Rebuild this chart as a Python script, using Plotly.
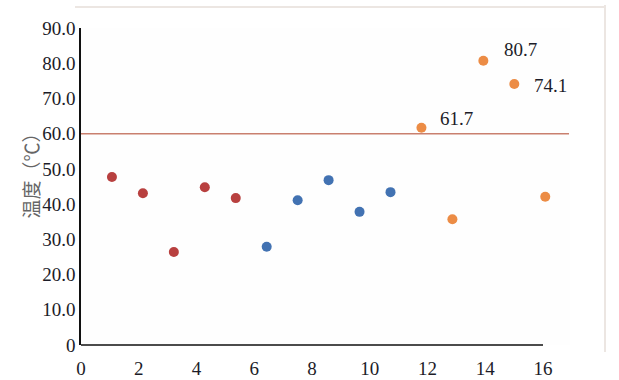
import plotly.graph_objects as go

# Data
sample_a = [1, 2, 3, 4, 5]
temp_a = [47.7, 43.1, 26.4, 44.8, 41.7]
sample_b = [6, 7, 8, 9, 10]
temp_b = [27.9, 41.1, 46.8, 37.8, 43.4]
sample_c = [11, 12, 13, 14, 15]
temp_c = [61.7, 35.7, 80.7, 74.1, 42.1]
threshold = 60
labeled = [11, 13, 14]
x_ticks = [0, 2, 4, 6, 8, 10, 12, 14, 16]
y_ticks = [0, 10, 20, 30, 40, 50, 60, 70, 80, 90]
y_ticktext = ["0", "10.0", "20.0", "30.0", "40.0", "50.0", "60.0", "70.0", "80.0", "90.0"]
y_title = "温度（℃）"

RED = "#b8403f"
BLUE = "#4272b2"
ORANGE = "#ec8c45"
SERIF = "Liberation Serif, Times New Roman, serif"

W, H = 619, 380
L, R, T, B = 81, 49, 28, 35
pw = W - L - R
ph = H - T - B
unit_axis = 28.875  # px per unit on the visible axis
unit_pts = 30.95    # px per sample in the point series
xr_axis = pw / unit_axis
xr_pts = pw / unit_pts

fig = go.Figure()
# empty trace to register the visible x axis
fig.add_trace(go.Scatter(x=[], y=[], xaxis="x", yaxis="y", mode="markers",
                         showlegend=False, hoverinfo="skip"))
for xs, ys, c in [(sample_a, temp_a, RED), (sample_b, temp_b, BLUE), (sample_c, temp_c, ORANGE)]:
    fig.add_trace(go.Scatter(x=xs, y=ys, mode="markers", xaxis="x2", yaxis="y",
                             marker=dict(color=c, size=10, line=dict(width=0)),
                             showlegend=False, hoverinfo="x+y"))

# threshold line
fig.add_shape(type="line", xref="x2", yref="y", x0=0, x1=xr_pts * 0.998, y0=threshold, y1=threshold,
              line=dict(color="#c9806f", width=1.5), layer="below")

# labels
offsets = {11: (17, 9), 13: (19, 11), 14: (18, -1)}
for xv, yv in zip(sample_c, temp_c):
    if xv in labeled:
        dx, dy = offsets[xv]
        fig.add_annotation(x=xv, y=yv, xref="x2", yref="y", text=f"{yv:.1f}", showarrow=False,
                           xanchor="left", yanchor="middle", xshift=dx, yshift=dy,
                           font=dict(family=SERIF, size=19, color="#1c1c28"))

# y title
fig.add_annotation(x=(14 - L) / pw, y=(H - B - 171) / ph, xref="paper", yref="paper",
                   text=y_title, textangle=-90, showarrow=False,
                   font=dict(family="Noto Sans CJK SC", size=19, color="#666666"))

# x axis line (ends at 16)
fig.add_shape(type="line", xref="paper", yref="paper", x0=0, x1=16 * unit_axis / pw, y0=0, y1=0,
              line=dict(color="#111111", width=1.5))

# faint frame lines (top and right)
fig.add_shape(type="line", xref="paper", yref="paper", x0=(75 - L) / pw, x1=(605 - L) / pw,
              y0=(H - B - 7) / ph, y1=(H - B - 7) / ph, line=dict(color="#ece6e2", width=2))
fig.add_shape(type="line", xref="paper", yref="paper", x0=(605 - L) / pw, x1=(605 - L) / pw,
              y0=(H - B - 5) / ph, y1=(H - B - 352) / ph, line=dict(color="#ece6e2", width=2))

fig.update_layout(
    width=W, height=H,
    margin=dict(l=L, r=R, t=T, b=B),
    paper_bgcolor="white", plot_bgcolor="#fefefe",
    xaxis=dict(range=[0, xr_axis], tickvals=x_ticks, ticktext=[str(v) for v in x_ticks],
               showline=False, showgrid=False, zeroline=False, ticks="inside", ticklen=5,
               tickcolor="#111111", tickwidth=1.5, anchor="y", domain=[0, 1],
               ticklabelstandoff=10, automargin=False,
               tickfont=dict(family=SERIF, size=19, color="#1c1c28")),
    xaxis2=dict(range=[0, xr_pts], visible=False, anchor="y", domain=[0, 1],
                showgrid=False, zeroline=False, automargin=False),
    yaxis=dict(range=[0, 90], tickvals=y_ticks, ticktext=y_ticktext, showline=True,
               linecolor="#111111", linewidth=1.5, showgrid=False, zeroline=False,
               ticks="inside", ticklen=5, tickcolor="#111111", tickwidth=1.5, anchor="x",
               automargin=False,
               tickfont=dict(family=SERIF, size=19, color="#1c1c28")),
)

fig.write_html("out.html", post_script="document.body.style.margin='0';",
               config={"displayModeBar": False})
